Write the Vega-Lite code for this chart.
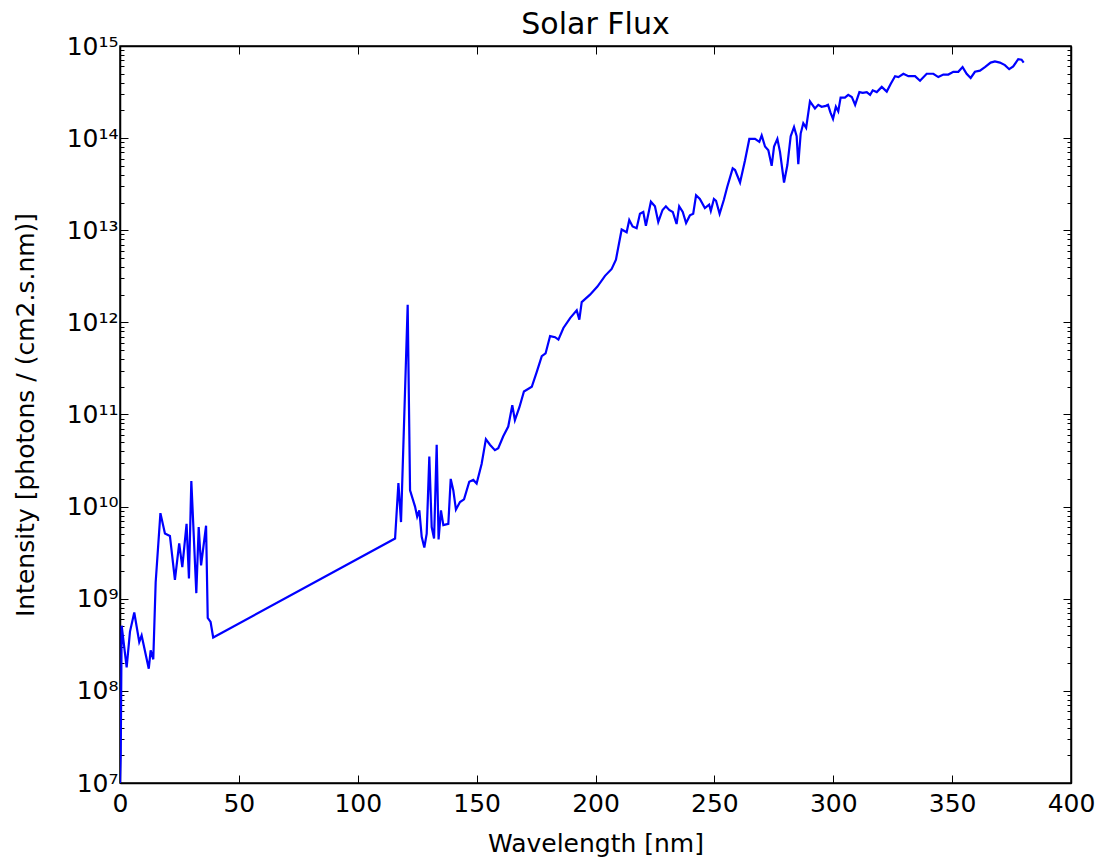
{
  "$schema": "https://vega.github.io/schema/vega-lite/v6.json",
  "width": 951,
  "height": 737,
  "autosize": {"type": "none"},
  "padding": {"left": 120, "top": 46, "right": 32, "bottom": 79},
  "background": "white",
  "title": {"text": "Solar Flux", "fontSize": 30, "font": "DejaVu Sans", "fontWeight": "normal", "color": "black", "offset": 5, "dy": 11, "frame": "group"},
  "config": {
    "view": {"stroke": "black", "strokeWidth": 1.5},
    "axis": {
      "domainColor": "black", "domainWidth": 1.5, "tickColor": "black", "tickWidth": 1,
      "labelFont": "DejaVu Sans", "labelFontSize": 25, "labelColor": "black",
      "titleFont": "DejaVu Sans", "titleFontSize": 25, "titleFontWeight": "normal", "titleColor": "black",
      "grid": false, "labelFlush": false, "labelOverlap": false
    }
  },
  "data": {"values": [
    {"wavelength": 0, "intensity": 1e7},
    {"wavelength": 0.3, "intensity": 2e7},
    {"wavelength": 0.7, "intensity": 5.1e8},
    {"wavelength": 2.8, "intensity": 1.8e8},
    {"wavelength": 4.2, "intensity": 4.4e8},
    {"wavelength": 6.0, "intensity": 7.1e8},
    {"wavelength": 8.1, "intensity": 3.4e8},
    {"wavelength": 9.1, "intensity": 4.0e8},
    {"wavelength": 12.1, "intensity": 1.74e8},
    {"wavelength": 12.9, "intensity": 2.75e8},
    {"wavelength": 14.0, "intensity": 2.2e8},
    {"wavelength": 15.0, "intensity": 1.5e9},
    {"wavelength": 17.0, "intensity": 8.5e9},
    {"wavelength": 18.9, "intensity": 5.1e9},
    {"wavelength": 21.0, "intensity": 4.8e9},
    {"wavelength": 23.1, "intensity": 1.6e9},
    {"wavelength": 24.9, "intensity": 4.0e9},
    {"wavelength": 26.2, "intensity": 2.2e9},
    {"wavelength": 28.0, "intensity": 6.5e9},
    {"wavelength": 29.0, "intensity": 1.66e9},
    {"wavelength": 30.0, "intensity": 1.9e10},
    {"wavelength": 32.1, "intensity": 1.15e9},
    {"wavelength": 33.1, "intensity": 6.0e9},
    {"wavelength": 34.1, "intensity": 2.3e9},
    {"wavelength": 36.2, "intensity": 6.2e9},
    {"wavelength": 36.9, "intensity": 6.2e8},
    {"wavelength": 38.1, "intensity": 5.6e8},
    {"wavelength": 39.2, "intensity": 3.8e8},
    {"wavelength": 115.7, "intensity": 4.5e9},
    {"wavelength": 117.1, "intensity": 1.8e10},
    {"wavelength": 118.2, "intensity": 6.8e9},
    {"wavelength": 121.0, "intensity": 1.55e12},
    {"wavelength": 122.0, "intensity": 1.5e10},
    {"wavelength": 124.1, "intensity": 1.0e10},
    {"wavelength": 125.0, "intensity": 7.8e9},
    {"wavelength": 125.9, "intensity": 9.1e9},
    {"wavelength": 126.9, "intensity": 4.7e9},
    {"wavelength": 128.0, "intensity": 3.6e9},
    {"wavelength": 129.0, "intensity": 5.1e9},
    {"wavelength": 130.1, "intensity": 3.5e10},
    {"wavelength": 131.1, "intensity": 6.0e9},
    {"wavelength": 132.1, "intensity": 4.5e9},
    {"wavelength": 133.2, "intensity": 4.7e10},
    {"wavelength": 134.0, "intensity": 4.4e9},
    {"wavelength": 135.0, "intensity": 9.1e9},
    {"wavelength": 136.0, "intensity": 6.3e9},
    {"wavelength": 138.1, "intensity": 6.5e9},
    {"wavelength": 139.1, "intensity": 2.0e10},
    {"wavelength": 140.2, "intensity": 1.5e10},
    {"wavelength": 141.3, "intensity": 9.3e9},
    {"wavelength": 143.0, "intensity": 1.12e10},
    {"wavelength": 144.7, "intensity": 1.2e10},
    {"wavelength": 146.9, "intensity": 1.86e10},
    {"wavelength": 148.6, "intensity": 1.95e10},
    {"wavelength": 150.0, "intensity": 1.78e10},
    {"wavelength": 152.1, "intensity": 2.9e10},
    {"wavelength": 153.9, "intensity": 5.4e10},
    {"wavelength": 155.6, "intensity": 4.7e10},
    {"wavelength": 157.7, "intensity": 4.1e10},
    {"wavelength": 159.1, "intensity": 4.3e10},
    {"wavelength": 161.2, "intensity": 5.8e10},
    {"wavelength": 163.3, "intensity": 7.4e10},
    {"wavelength": 165.0, "intensity": 1.26e11},
    {"wavelength": 166.1, "intensity": 8.7e10},
    {"wavelength": 168.0, "intensity": 1.2e11},
    {"wavelength": 169.9, "intensity": 1.78e11},
    {"wavelength": 173.2, "intensity": 2.0e11},
    {"wavelength": 175.3, "intensity": 2.9e11},
    {"wavelength": 177.4, "intensity": 4.3e11},
    {"wavelength": 179.0, "intensity": 4.6e11},
    {"wavelength": 180.9, "intensity": 7.1e11},
    {"wavelength": 183.0, "intensity": 6.9e11},
    {"wavelength": 184.4, "intensity": 6.5e11},
    {"wavelength": 186.5, "intensity": 8.7e11},
    {"wavelength": 189.4, "intensity": 1.12e12},
    {"wavelength": 192.1, "intensity": 1.35e12},
    {"wavelength": 193.2, "intensity": 1.07e12},
    {"wavelength": 194.2, "intensity": 1.66e12},
    {"wavelength": 197.7, "intensity": 2.0e12},
    {"wavelength": 200.8, "intensity": 2.45e12},
    {"wavelength": 204.0, "intensity": 3.2e12},
    {"wavelength": 206.8, "intensity": 3.8e12},
    {"wavelength": 208.6, "intensity": 4.8e12},
    {"wavelength": 211.0, "intensity": 1.02e13},
    {"wavelength": 213.1, "intensity": 9.5e12},
    {"wavelength": 214.2, "intensity": 1.29e13},
    {"wavelength": 215.6, "intensity": 1.1e13},
    {"wavelength": 217.3, "intensity": 1.05e13},
    {"wavelength": 218.7, "intensity": 1.51e13},
    {"wavelength": 220.1, "intensity": 1.58e13},
    {"wavelength": 221.2, "intensity": 1.12e13},
    {"wavelength": 223.3, "intensity": 2.04e13},
    {"wavelength": 225.0, "intensity": 1.82e13},
    {"wavelength": 226.4, "intensity": 1.23e13},
    {"wavelength": 228.2, "intensity": 1.66e13},
    {"wavelength": 229.6, "intensity": 1.82e13},
    {"wavelength": 231.0, "intensity": 1.66e13},
    {"wavelength": 232.5, "intensity": 1.58e13},
    {"wavelength": 234.1, "intensity": 1.17e13},
    {"wavelength": 235.2, "intensity": 1.82e13},
    {"wavelength": 236.7, "intensity": 1.58e13},
    {"wavelength": 238.1, "intensity": 1.2e13},
    {"wavelength": 239.7, "intensity": 1.45e13},
    {"wavelength": 241.1, "intensity": 1.51e13},
    {"wavelength": 242.3, "intensity": 2.4e13},
    {"wavelength": 243.9, "intensity": 2.19e13},
    {"wavelength": 246.0, "intensity": 1.74e13},
    {"wavelength": 247.8, "intensity": 1.9e13},
    {"wavelength": 248.5, "intensity": 1.62e13},
    {"wavelength": 249.8, "intensity": 2.19e13},
    {"wavelength": 250.7, "intensity": 2.09e13},
    {"wavelength": 252.2, "intensity": 1.51e13},
    {"wavelength": 254.0, "intensity": 2.14e13},
    {"wavelength": 255.4, "intensity": 2.95e13},
    {"wavelength": 257.7, "intensity": 4.7e13},
    {"wavelength": 258.7, "intensity": 4.5e13},
    {"wavelength": 260.8, "intensity": 3.3e13},
    {"wavelength": 262.9, "intensity": 5.75e13},
    {"wavelength": 264.7, "intensity": 9.8e13},
    {"wavelength": 267.1, "intensity": 9.8e13},
    {"wavelength": 268.9, "intensity": 9.1e13},
    {"wavelength": 269.9, "intensity": 1.07e14},
    {"wavelength": 271.3, "intensity": 8.1e13},
    {"wavelength": 272.7, "intensity": 7.4e13},
    {"wavelength": 274.1, "intensity": 5.0e13},
    {"wavelength": 275.1, "intensity": 8.1e13},
    {"wavelength": 276.5, "intensity": 9.8e13},
    {"wavelength": 277.6, "intensity": 7.1e13},
    {"wavelength": 279.3, "intensity": 3.3e13},
    {"wavelength": 280.7, "intensity": 5.1e13},
    {"wavelength": 282.1, "intensity": 1.05e14},
    {"wavelength": 283.5, "intensity": 1.32e14},
    {"wavelength": 284.6, "intensity": 1.05e14},
    {"wavelength": 285.3, "intensity": 5.2e13},
    {"wavelength": 286.3, "intensity": 1.12e14},
    {"wavelength": 287.4, "intensity": 1.45e14},
    {"wavelength": 288.6, "intensity": 1.29e14},
    {"wavelength": 290.2, "intensity": 2.5e14},
    {"wavelength": 292.3, "intensity": 2.1e14},
    {"wavelength": 293.7, "intensity": 2.3e14},
    {"wavelength": 295.1, "intensity": 2.19e14},
    {"wavelength": 296.9, "intensity": 2.24e14},
    {"wavelength": 297.8, "intensity": 2.3e14},
    {"wavelength": 298.8, "intensity": 1.9e14},
    {"wavelength": 299.9, "intensity": 1.62e14},
    {"wavelength": 301.1, "intensity": 2.19e14},
    {"wavelength": 302.1, "intensity": 1.95e14},
    {"wavelength": 303.1, "intensity": 2.75e14},
    {"wavelength": 304.9, "intensity": 2.75e14},
    {"wavelength": 306.3, "intensity": 2.95e14},
    {"wavelength": 307.8, "intensity": 2.8e14},
    {"wavelength": 309.2, "intensity": 2.3e14},
    {"wavelength": 311.0, "intensity": 3.16e14},
    {"wavelength": 312.4, "intensity": 3.1e14},
    {"wavelength": 314.1, "intensity": 3.16e14},
    {"wavelength": 315.5, "intensity": 2.95e14},
    {"wavelength": 316.6, "intensity": 3.3e14},
    {"wavelength": 318.3, "intensity": 3.16e14},
    {"wavelength": 320.4, "intensity": 3.6e14},
    {"wavelength": 322.5, "intensity": 3.2e14},
    {"wavelength": 324.2, "intensity": 3.9e14},
    {"wavelength": 326.0, "intensity": 4.7e14},
    {"wavelength": 327.4, "intensity": 4.6e14},
    {"wavelength": 329.5, "intensity": 5.0e14},
    {"wavelength": 331.6, "intensity": 4.7e14},
    {"wavelength": 334.4, "intensity": 4.7e14},
    {"wavelength": 336.5, "intensity": 4.2e14},
    {"wavelength": 339.3, "intensity": 5.0e14},
    {"wavelength": 342.1, "intensity": 5.0e14},
    {"wavelength": 344.2, "intensity": 4.6e14},
    {"wavelength": 346.3, "intensity": 4.9e14},
    {"wavelength": 348.4, "intensity": 4.9e14},
    {"wavelength": 350.5, "intensity": 5.25e14},
    {"wavelength": 352.6, "intensity": 5.25e14},
    {"wavelength": 354.4, "intensity": 5.9e14},
    {"wavelength": 356.1, "intensity": 5.0e14},
    {"wavelength": 357.8, "intensity": 4.5e14},
    {"wavelength": 359.6, "intensity": 5.25e14},
    {"wavelength": 361.7, "intensity": 5.4e14},
    {"wavelength": 363.8, "intensity": 5.9e14},
    {"wavelength": 366.2, "intensity": 6.6e14},
    {"wavelength": 368.0, "intensity": 6.8e14},
    {"wavelength": 370.1, "intensity": 6.6e14},
    {"wavelength": 372.2, "intensity": 6.2e14},
    {"wavelength": 374.0, "intensity": 5.6e14},
    {"wavelength": 375.7, "intensity": 6.0e14},
    {"wavelength": 377.8, "intensity": 7.2e14},
    {"wavelength": 379.2, "intensity": 7.1e14},
    {"wavelength": 380.1, "intensity": 6.6e14}
  ]},
  "layer": [
    {
      "mark": {"type": "line", "color": "#0000ff", "strokeWidth": 2.2, "clip": true},
      "encoding": {
        "x": {"field": "wavelength", "type": "quantitative",
          "scale": {"domain": [0, 400], "nice": false, "zero": false},
          "axis": {"orient": "bottom", "title": "Wavelength [nm]", "values": [0, 50, 100, 150, 200, 250, 300, 350, 400], "format": "d", "tickSize": -8, "labelPadding": 16, "titlePadding": 15}},
        "y": {"field": "intensity", "type": "quantitative",
          "scale": {"type": "log", "domain": [1e7, 1e15], "nice": false},
          "axis": {"orient": "left", "title": "Intensity [photons / (cm2.s.nm)]",
            "values": [1e7,2e7,3e7,4e7,5e7,6e7,7e7,8e7,9e7,1e8,2e8,3e8,4e8,5e8,6e8,7e8,8e8,9e8,1e9,2e9,3e9,4e9,5e9,6e9,7e9,8e9,9e9,1e10,2e10,3e10,4e10,5e10,6e10,7e10,8e10,9e10,1e11,2e11,3e11,4e11,5e11,6e11,7e11,8e11,9e11,1e12,2e12,3e12,4e12,5e12,6e12,7e12,8e12,9e12,1e13,2e13,3e13,4e13,5e13,6e13,7e13,8e13,9e13,1e14,2e14,3e14,4e14,5e14,6e14,7e14,8e14,9e14,1e15],
            "labelExpr": "abs(log(datum.value)/LN10 - round(log(datum.value)/LN10)) < 0.01 ? '10' + ['⁷','⁸','⁹','¹⁰','¹¹','¹²','¹³','¹⁴','¹⁵'][round(log(datum.value)/LN10) - 7] : ''",
            "tickSize": {"condition": {"test": "abs(log(datum.value)/LN10 - round(log(datum.value)/LN10)) < 0.01", "value": -8}, "value": -4},
            "labelPadding": 10, "titlePadding": 28}}
      }
    },
    {
      "mark": {"type": "line", "opacity": 0},
      "encoding": {
        "x": {"field": "wavelength", "type": "quantitative",
          "scale": {"domain": [0, 400], "nice": false, "zero": false},
          "axis": {"orient": "top", "title": null, "labels": false, "values": [0, 50, 100, 150, 200, 250, 300, 350, 400], "tickSize": -8}},
        "y": {"field": "intensity", "type": "quantitative",
          "scale": {"type": "log", "domain": [1e7, 1e15], "nice": false},
          "axis": {"orient": "right", "title": null, "labels": false,
            "values": [1e7,2e7,3e7,4e7,5e7,6e7,7e7,8e7,9e7,1e8,2e8,3e8,4e8,5e8,6e8,7e8,8e8,9e8,1e9,2e9,3e9,4e9,5e9,6e9,7e9,8e9,9e9,1e10,2e10,3e10,4e10,5e10,6e10,7e10,8e10,9e10,1e11,2e11,3e11,4e11,5e11,6e11,7e11,8e11,9e11,1e12,2e12,3e12,4e12,5e12,6e12,7e12,8e12,9e12,1e13,2e13,3e13,4e13,5e13,6e13,7e13,8e13,9e13,1e14,2e14,3e14,4e14,5e14,6e14,7e14,8e14,9e14,1e15],
            "tickSize": {"condition": {"test": "abs(log(datum.value)/LN10 - round(log(datum.value)/LN10)) < 0.01", "value": -8}, "value": -4}}}
      }
    }
  ],
  "resolve": {"axis": {"x": "independent", "y": "independent"}}
}
